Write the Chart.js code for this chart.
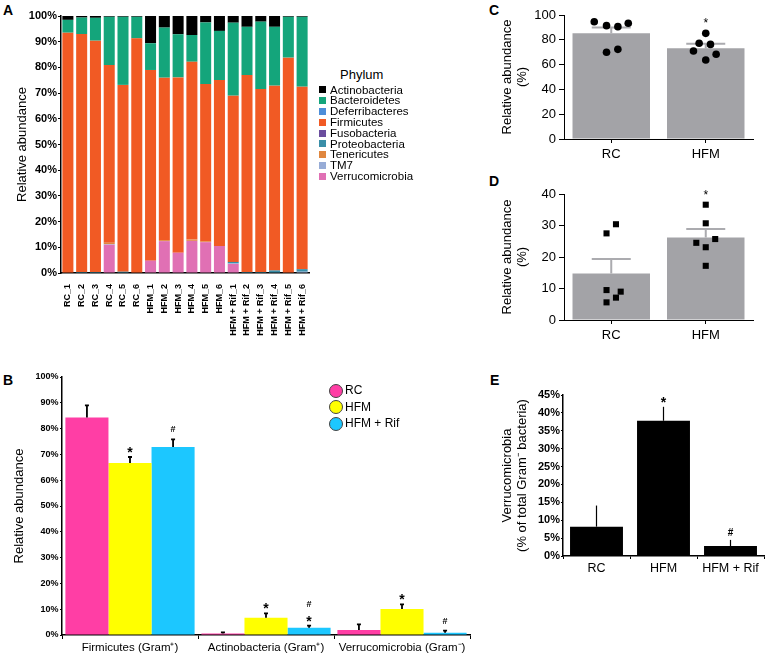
<!DOCTYPE html>
<html>
<head>
<meta charset="utf-8">
<title>Phylum abundance</title>
<script src="https://cdn.jsdelivr.net/npm/chart.js@4.4.1/dist/chart.umd.min.js"></script>
<style>
	html, body { margin: 0; padding: 0; background: #fff; }
	body { position: relative; width: 769px; height: 658px; overflow: hidden; font-family: Arial, "Liberation Sans", sans-serif; color: #000; }
	canvas { position: absolute; }
	.letter { position: absolute; font-size: 14px; font-weight: bold; line-height: 14px; }
	.leg { position: absolute; white-space: nowrap; }
</style>
</head>
<body>
<div class="letter" style="left:3px; top:3px;">A</div>
<div class="letter" style="left:3px; top:373px;">B</div>
<div class="letter" style="left:489px; top:3px;">C</div>
<div class="letter" style="left:489px; top:174px;">D</div>
<div class="letter" style="left:490px; top:373px;">E</div>

<canvas id="chartA" width="320" height="340" style="left:0; top:0;"></canvas>
<canvas id="chartB" width="480" height="298" style="left:0; top:360px;"></canvas>
<canvas id="chartC" width="269" height="165" style="left:500px; top:0;"></canvas>
<canvas id="chartD" width="269" height="176" style="left:500px; top:170px;"></canvas>
<canvas id="chartE" width="269" height="225" style="left:500px; top:360px;"></canvas>

<div id="legendA"></div>
<div id="legendB"></div>

<script>
var samples = ['RC_1', 'RC_2', 'RC_3', 'RC_4', 'RC_5', 'RC_6',
	'HFM_1', 'HFM_2', 'HFM_3', 'HFM_4', 'HFM_5', 'HFM_6',
	'HFM + Rif_1', 'HFM + Rif_2', 'HFM + Rif_3', 'HFM + Rif_4', 'HFM + Rif_5', 'HFM + Rif_6'];

// panel A, % of reads per sample
var actinobacteria  = [1.5, 0.6, 0.7, 0.3, 0.3, 0.3, 10.6, 4.5, 7.1, 7.4, 2.5, 5.8, 2.6, 4.2, 2.2, 4.2, 0.3, 0.3];
var bacteroidetes   = [5.0, 6.4, 8.9, 18.8, 26.5, 8.4, 10.4, 19.5, 16.8, 10.4, 24.0, 19.1, 28.4, 18.8, 26.2, 22.9, 15.9, 27.2];
var deferribacteres = [0, 0, 0, 0, 0, 0, 0, 0, 0, 0, 0, 0, 0, 0, 0, 0, 0, 0];
var firmicutes      = [93.5, 92.6, 90.0, 69.1, 72.7, 91.3, 74.2, 63.2, 68.2, 69.2, 61.2, 64.6, 64.7, 76.6, 71.2, 71.9, 83.8, 71.0];
var fusobacteria    = [0, 0, 0, 0, 0, 0, 0, 0, 0, 0, 0, 0, 0, 0, 0, 0, 0, 0];
var proteobacteria  = [0, 0.4, 0.4, 0, 0.5, 0, 0, 0, 0, 0, 0, 0, 0.5, 0.4, 0.4, 1.0, 0, 1.0];
var tenericutes     = [0, 0, 0, 0.6, 0, 0, 0, 0.4, 0, 0.5, 0.3, 0, 0, 0, 0, 0, 0, 0];
var tm7             = [0, 0, 0, 0.2, 0, 0, 0, 0, 0, 0, 0, 0, 0.3, 0, 0, 0, 0, 0.5];
var verrucomicrobia = [0, 0, 0, 11.0, 0, 0, 4.8, 12.4, 7.9, 12.5, 12.0, 10.5, 3.5, 0, 0, 0, 0, 0];

var phyla = ['Actinobacteria', 'Bacteroidetes', 'Deferribacteres', 'Firmicutes', 'Fusobacteria', 'Proteobacteria', 'Tenericutes', 'TM7', 'Verrucomicrobia'];
var phylumValues = [actinobacteria, bacteroidetes, deferribacteres, firmicutes, fusobacteria, proteobacteria, tenericutes, tm7, verrucomicrobia];
var phylumColors = ['#000000', '#14A57B', '#4D8ED9', '#F15A24', '#6B4E9E', '#3A8EA8', '#E0873F', '#97ACD6', '#E070B4'];

// panel B, group means and SEM
var groupsB = ['Firmicutes (Gram⁺)', 'Actinobacteria (Gram⁺)', 'Verrucomicrobia (Gram⁻)'];
var rcB = [84.3, 0.6, 1.9];
var rcBsem = [4.7, 0.4, 2.2];
var hfmB = [66.7, 6.7, 10.1];
var hfmBsem = [2.3, 1.7, 1.8];
var rifB = [72.9, 2.8, 0.9];
var rifBsem = [2.9, 0.8, 0.8];
var hfmBsig = ['*', '*', '*'];
var rifBsig = ['#', '*#', '#'];

// panels C and D, individual mice
var groupsCD = ['RC', 'HFM'];
var meanC = [85.2, 73.1];
var semC = [4.8, 3.8];
var rcC = [94.6, 91.4, 90.6, 93.3, 69.9, 72.3];
var rcCjit = [-0.18, -0.05, 0.07, 0.18, -0.05, 0.07];
var hfmC = [85.2, 77.2, 76.3, 71.0, 68.3, 63.7];
var hfmCjit = [0, -0.07, 0.05, -0.13, 0.11, 0];
var sigC = ['', '*'];

var meanD = [14.8, 26.2];
var semD = [4.6, 2.7];
var rcD = [30.4, 27.5, 9.5, 9.0, 7.1, 5.6];
var rcDjit = [0.05, -0.05, -0.05, 0.1, 0.05, -0.05];
var hfmD = [36.6, 30.7, 24.5, 25.7, 23.1, 17.2];
var hfmDjit = [0, 0, -0.1, 0.1, 0, 0];
var sigD = ['', '*'];

// panel E
var groupsE = ['RC', 'HFM', 'HFM + Rif'];
var meanE = [8.2, 37.8, 2.8];
var semE = [5.9, 3.9, 1.7];
var sigE = ['', '*', '#'];

var FONT = 'Arial, "Liberation Sans", sans-serif';
Chart.defaults.font.family = FONT;
Chart.defaults.color = '#000';
Chart.defaults.animation = false;
Chart.defaults.responsive = false;
Chart.defaults.plugins.legend.display = false;
Chart.defaults.plugins.tooltip.enabled = false;

var errorBars = {
	id: 'errorBars',
	afterDatasetDraw: function(chart, args) {
		var ds = chart.data.datasets[args.index];
		if (!ds.sem) return;
		var ctx = chart.ctx;
		var y = chart.scales[args.meta.yAxisID];
		ctx.save();
		args.meta.data.forEach(function(bar, i) {
			var top = y.getPixelForValue(ds.data[i] + ds.sem[i]);
			ctx.strokeStyle = ds.semColor;
			ctx.lineWidth = ds.semWidth;
			ctx.beginPath();
			ctx.moveTo(bar.x, bar.y);
			ctx.lineTo(bar.x, top);
			if (ds.capWidth) {
				ctx.moveTo(bar.x - ds.capWidth / 2, top);
				ctx.lineTo(bar.x + ds.capWidth / 2, top);
			}
			ctx.stroke();
			var sig = ds.sig ? ds.sig[i] : '';
			if (!sig) return;
			var cursor = top;
			if (ds.points) {
				var hi = Math.max.apply(null, ds.points[i]);
				cursor = Math.min(cursor, y.getPixelForValue(hi) - 3);
			}
			ctx.fillStyle = '#000';
			ctx.textAlign = 'center';
			ctx.textBaseline = 'alphabetic';
			sig.split('').forEach(function(ch) {
				var st = ds.sigStyle[ch];
				ctx.font = st.font;
				ctx.fillText(ch, bar.x, cursor + st.dy);
				cursor -= st.h;
			});
		});
		ctx.restore();
	}
};
Chart.register(errorBars);

function fixWidth(w) {
	return function(s) { s.width = w; };
}
function fixHeight(h) {
	return function(s) { s.height = h; };
}

// ---- A: stacked phyla per sample
var datasetsA = phyla.map(function(name, i) {
	return {
		label: name,
		data: phylumValues[i],
		backgroundColor: phylumColors[i],
		borderWidth: 0,
		barPercentage: 0.8,
		categoryPercentage: 1
	};
}).reverse();

new Chart(document.getElementById('chartA'), {
	type: 'bar',
	data: { labels: samples, datasets: datasetsA },
	options: {
		layout: { padding: { top: 16, right: 11, left: 0, bottom: 0 } },
		scales: {
			x: {
				stacked: true,
				grid: { display: false },
				border: { color: '#000', width: 1.5 },
				ticks: { font: { size: 9, weight: 'bold' }, minRotation: 90, maxRotation: 90, autoSkip: false, padding: 3 },
				afterFit: fixHeight(67)
			},
			y: {
				stacked: true,
				min: 0,
				max: 100,
				ticks: { stepSize: 10, padding: 1, font: { size: 11, weight: 'bold' }, callback: function(v) { return v + '%'; } },
				grid: { drawOnChartArea: false, tickLength: 3, color: '#000' },
				border: { color: '#000', width: 1.5 },
				title: { display: true, text: 'Relative abundance', font: { size: 13 }, padding: { top: 15, bottom: 0 } },
				afterFit: fixWidth(61)
			}
		}
	}
});

var legA = '<div class="leg" style="left:340px; top:67px; font-size:13px; line-height:16px;">Phylum</div>';
phyla.forEach(function(name, i) {
	var top = 84.6 + i * 10.8;
	legA += '<div class="leg" style="left:319px; top:' + (top + 1.8) + 'px; width:7px; height:7px; background:' + phylumColors[i] + ';"></div>';
	legA += '<div class="leg" style="left:330px; top:' + top + 'px; font-size:11.5px; line-height:10.8px;">' + name + '</div>';
});
document.getElementById('legendA').innerHTML = legA;

// ---- B: grouped means
var sigStyleB = {
	'*': { font: 'bold 14px ' + FONT, dy: 0, h: 12 },
	'#': { font: 'bold 9px ' + FONT, dy: -7, h: 12 }
};
function barB(label, data, sem, sig, color) {
	return {
		label: label, data: data, sem: sem, sig: sig, sigStyle: sigStyleB,
		semColor: '#000', semWidth: 1.8, capWidth: 4,
		backgroundColor: color, borderWidth: 0,
		barPercentage: 1, categoryPercentage: 0.95
	};
}
var colorsB = ['#FF3EA5', '#FFFF00', '#1CC7FF'];
var namesB = ['RC', 'HFM', 'HFM + Rif'];

new Chart(document.getElementById('chartB'), {
	type: 'bar',
	data: {
		labels: groupsB,
		datasets: [
			barB('RC', rcB, rcBsem, null, colorsB[0]),
			barB('HFM', hfmB, hfmBsem, hfmBsig, colorsB[1]),
			barB('HFM + Rif', rifB, rifBsem, rifBsig, colorsB[2])
		]
	},
	options: {
		layout: { padding: { top: 17, right: 10, left: 0, bottom: 0 } },
		scales: {
			x: {
				grid: { drawOnChartArea: false, offset: true, tickLength: 4, color: '#000' },
				border: { color: '#000', width: 1.5 },
				ticks: { font: { size: 11.5 }, padding: 2 },
				afterFit: fixHeight(23)
			},
			y: {
				min: 0,
				max: 100,
				ticks: { stepSize: 10, padding: 1.5, font: { size: 9, weight: 'bold' }, callback: function(v) { return v + '%'; } },
				grid: { drawOnChartArea: false, tickLength: 2, color: '#000' },
				border: { color: '#000', width: 1.5 },
				title: { display: true, text: 'Relative abundance', font: { size: 13 }, padding: { top: 12, bottom: 0 } },
				afterFit: fixWidth(62)
			}
		}
	}
});

var legB = '';
namesB.forEach(function(name, i) {
	var cy = 390 + i * 16.5;
	legB += '<div class="leg" style="left:328.5px; top:' + (cy - 6.5) + 'px; width:12px; height:12px; border-radius:50%; border:0.5px solid #444; background:' + colorsB[i] + ';"></div>';
	legB += '<div class="leg" style="left:345px; top:' + (cy - 8) + 'px; font-size:12px; line-height:16px;">' + name + '</div>';
});
document.getElementById('legendB').innerHTML = legB;

// ---- C and D: bars with individual mice
function dotPanel(id, mean, sem, rc, rcJit, hfm, hfmJit, sig, yMax, yStep, pointStyle, radius, top, xHeight) {
	var pts = function(vals, jit, at) {
		return vals.map(function(v, i) { return { x: at + jit[i], y: v }; });
	};
	new Chart(document.getElementById(id), {
		type: 'bar',
		data: {
			labels: groupsCD,
			datasets: [
				{
					type: 'scatter', xAxisID: 'xj', order: 0,
					data: pts(rc, rcJit, 0).concat(pts(hfm, hfmJit, 1)),
					pointStyle: pointStyle, pointRadius: radius,
					backgroundColor: '#000', borderWidth: 0
				},
				{
					order: 1, grouped: false,
					data: mean, sem: sem, sig: sig, points: [rc, hfm],
					sigStyle: { '*': { font: '12px ' + FONT, dy: -3, h: 12 } },
					semColor: '#ABABAF', semWidth: 2, capWidth: 39,
					backgroundColor: '#A3A3A7', borderWidth: 0,
					barPercentage: 0.82, categoryPercentage: 1
				}
			]
		},
		options: {
			layout: { padding: { top: top, right: 16, left: 0, bottom: 0 } },
			scales: {
				x: {
					grid: { drawOnChartArea: false, offset: false, tickLength: 4, color: '#000' },
					border: { color: '#000', width: 1 },
					ticks: { font: { size: 13 }, padding: 4 },
					afterFit: fixHeight(xHeight)
				},
				xj: { type: 'linear', min: -0.5, max: 1.5, offset: false, display: false },
				y: {
					min: 0,
					max: yMax,
					ticks: { stepSize: yStep, padding: 3, font: { size: 13 } },
					grid: { drawOnChartArea: false, tickLength: 5, color: '#000' },
					border: { color: '#000', width: 1 },
					title: { display: true, text: ['Relative abundance', '(%)'], font: { size: 13, lineHeight: 1.15 }, padding: { top: 0, bottom: 0 } },
					afterFit: fixWidth(64)
				}
			}
		}
	});
}

dotPanel('chartC', meanC, semC, rcC, rcCjit, hfmC, hfmCjit, sigC, 100, 20, 'circle', 3.8, 15, 26);
dotPanel('chartD', meanD, semD, rcD, rcDjit, hfmD, hfmDjit, sigD, 40, 10, 'rect', 4.3, 24, 26);

// ---- E: Verrucomicrobia share of Gram- bacteria
new Chart(document.getElementById('chartE'), {
	type: 'bar',
	data: {
		labels: groupsE,
		datasets: [{
			data: meanE, sem: semE, sig: sigE,
			sigStyle: {
				'*': { font: 'bold 14px ' + FONT, dy: 0, h: 12 },
				'#': { font: 'bold 10px ' + FONT, dy: -4, h: 12 }
			},
			semColor: '#000', semWidth: 1.2, capWidth: 0,
			backgroundColor: '#000', borderWidth: 0,
			barPercentage: 0.79, categoryPercentage: 1
		}]
	},
	options: {
		layout: { padding: { top: 35, right: 5, left: 0, bottom: 0 } },
		scales: {
			x: {
				grid: { drawOnChartArea: false, offset: true, tickLength: 3, color: '#000' },
				border: { color: '#000', width: 1.5 },
				ticks: { font: { size: 12.5 }, padding: 2 },
				afterFit: fixHeight(29)
			},
			y: {
				min: 0,
				max: 45,
				ticks: { stepSize: 5, padding: 1, font: { size: 11, weight: 'bold' }, callback: function(v) { return v + '%'; } },
				grid: { drawOnChartArea: false, tickLength: 2, color: '#000' },
				border: { color: '#000', width: 1.5 },
				title: { display: true, text: ['Verrucomicrobia', '(% of total Gram⁻ bacteria)'], font: { size: 13, lineHeight: 1.15 }, padding: { top: 0, bottom: 0 } },
				afterFit: fixWidth(63)
			}
		}
	}
});
</script>
</body>
</html>
